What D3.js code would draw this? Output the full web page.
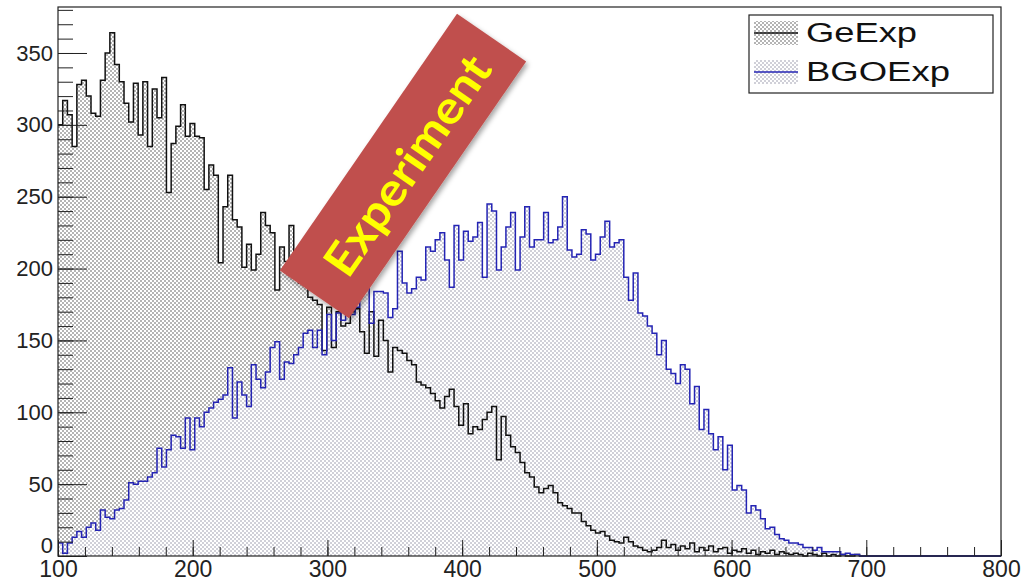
<!DOCTYPE html>
<html>
<head>
<meta charset="utf-8">
<script src="https://cdn.jsdelivr.net/npm/d3@7"></script>
<style>
  body { margin: 0; background: #fff; }
  svg { display: block; }
  .tick text { font-family: "Liberation Sans", Arial, Helvetica, sans-serif; fill: #222; }
</style>
</head>
<body>
<div id="chart"></div>
<script>
// histogram binning: 200 bins of 3.5 between 100 and 800
const binStart = 100;
const binWidth = 3.5;

const geExp = [
  300,317,307,285,328,331,320,308,306,331,
  350,364,342,330,315,302,329,293,330,285,
  325,305,333,253,287,299,314,292,301,292,
  291,255,272,265,204,243,265,234,229,201,
  217,199,210,239,230,225,185,215,205,230,
  200,190,195,180,178,175,143,173,145,170,
  160,162,170,172,156,141,170,139,164,150,
  128,145,143,141,136,133,121,119,117,113,
  108,103,111,116,104,91,106,85,90,88,
  95,100,104,67,97,84,76,72,65,58,
  55,48,44,47,49,44,37,35,33,30,
  30,24,21,18,16,17,14,11,10,9,
  13,10,7,6,4,3,4,6,11,6,
  8,4,7,5,9,3,6,4,7,3,
  5,6,2,4,3,5,2,4,1,3,
  2,4,1,3,2,1,2,1,0,2,
  1,0,2,0,1,0,1,0,0,1,
  0,0,0,0,0,0,0,0,0,0,
  0,0,0,0,0,0,0,0,0,0,
  0,0,0,0,0,0,0,0,0,0
];

const bgoExp = [
  9,2,9,13,17,13,20,23,18,32,
  27,26,32,33,39,51,50,52,52,55,
  58,75,62,74,84,83,75,96,74,96,
  90,100,103,107,109,112,131,96,121,112,
  104,133,123,117,128,145,149,123,135,134,
  140,145,155,157,145,157,140,168,150,169,
  164,173,168,173,185,190,162,184,184,183,
  166,172,212,190,183,186,194,192,215,212,
  220,225,206,187,230,206,226,219,222,232,
  194,245,240,199,215,229,239,199,222,243,
  215,220,220,239,218,220,229,250,213,208,
  210,227,224,206,210,222,233,215,218,220,
  194,178,197,169,167,160,155,140,150,130,
  127,120,133,130,106,118,88,102,85,74,
  83,60,77,46,49,46,30,35,32,26,
  19,20,15,12,11,9,9,8,6,6,
  4,6,3,3,3,3,1,2,1,1,
  0,0,0,0,0,0,0,0,0,0,
  0,0,0,0,0,0,0,0,0,0,
  0,0,0,0,0,0,0,0,0,0
];

const xTicks = [100, 200, 300, 400, 500, 600, 700, 800];
const yTicks = [0, 50, 100, 150, 200, 250, 300, 350];
const seriesNames = ["GeExp", "BGOExp"];
const bannerText = "Experiment";

const W = 1021, H = 586;
const frame = { left: 58, right: 1001, top: 7, bottom: 556 };

const svg = d3.select("#chart").append("svg")
  .attr("width", W).attr("height", H);

const defs = svg.append("defs");

// dotted ROOT-like fill patterns
function dotPattern(id, dot) {
  const p = defs.append("pattern")
    .attr("id", id).attr("patternUnits", "userSpaceOnUse")
    .attr("width", 4).attr("height", 4);
  p.append("rect").attr("width", 4).attr("height", 4).attr("fill", "#fff");
  p.append("rect").attr("x", 0).attr("y", 0).attr("width", 2).attr("height", 2).attr("fill", dot);
  p.append("rect").attr("x", 2).attr("y", 2).attr("width", 2).attr("height", 2).attr("fill", dot);
}
dotPattern("gePat", "#b4b4b4");
dotPattern("bgoPat", "#d0d0d8");

const shadow = defs.append("filter").attr("id", "shadow")
  .attr("x", "-20%").attr("y", "-20%").attr("width", "140%").attr("height", "140%");
shadow.append("feDropShadow")
  .attr("dx", 2).attr("dy", 3).attr("stdDeviation", 2.5)
  .attr("flood-color", "#000").attr("flood-opacity", 0.35);

const x = d3.scaleLinear().domain([100, 800]).range([frame.left, frame.right]);
const y = d3.scaleLinear().domain([0, 382]).range([frame.bottom, frame.top]);

function toSteps(vals) {
  const pts = vals.map((v, i) => ({ e: binStart + i * binWidth, v: v }));
  pts.push({ e: binStart + vals.length * binWidth, v: vals[vals.length - 1] });
  return pts;
}

const area = d3.area()
  .curve(d3.curveStepAfter)
  .x(d => x(d.e))
  .y0(y(0))
  .y1(d => y(d.v));

const line = d3.line()
  .curve(d3.curveStepAfter)
  .x(d => x(d.e))
  .y(d => y(d.v));

const geSteps = toSteps(geExp);
const bgoSteps = toSteps(bgoExp);

svg.append("path").datum(geSteps).attr("d", area).attr("fill", "url(#gePat)");
svg.append("path").datum(bgoSteps).attr("d", area).attr("fill", "url(#bgoPat)");

svg.append("path").datum(geSteps).attr("d", line)
  .attr("fill", "none").attr("stroke", "#111").attr("stroke-width", 1.5);
svg.append("path").datum(bgoSteps).attr("d", line)
  .attr("fill", "none").attr("stroke", "#2424b4").attr("stroke-width", 1.5);

// axes, ticks drawn inwards like ROOT
const yMinor = d3.range(0, 381, 10);
const xMinor = d3.range(100, 801, 20);

const yMinorG = svg.append("g").attr("transform", `translate(${frame.left},0)`)
  .call(d3.axisLeft(y).tickValues(yMinor).tickSize(-15).tickFormat(""));
const yMajorG = svg.append("g").attr("transform", `translate(${frame.left},0)`)
  .call(d3.axisLeft(y).tickValues(yTicks).tickSize(-29).tickPadding(5));
yMajorG.selectAll("text").style("font-size", "22px");
// the zero label sits a little higher so it clears the x labels
yMajorG.selectAll(".tick").filter(d => d === 0).select("text").attr("y", -11);

const xMinorG = svg.append("g").attr("transform", `translate(0,${frame.bottom})`)
  .call(d3.axisBottom(x).tickValues(xMinor).tickSize(-9).tickFormat(""));
const xMajorG = svg.append("g").attr("transform", `translate(0,${frame.bottom})`)
  .call(d3.axisBottom(x).tickValues(xTicks).tickSize(-16).tickPadding(5));
xMajorG.selectAll("text").style("font-size", "23px");

[yMinorG, yMajorG, xMinorG, xMajorG].forEach(g => {
  g.select(".domain").remove();
  g.selectAll("line").attr("stroke", "#222");
});

svg.append("rect")
  .attr("x", frame.left).attr("y", frame.top)
  .attr("width", frame.right - frame.left).attr("height", frame.bottom - frame.top)
  .attr("fill", "none").attr("stroke", "#222").attr("stroke-width", 1.2);

// legend
const leg = svg.append("g");
leg.append("rect").attr("x", 749).attr("y", 15).attr("width", 244).attr("height", 78)
  .attr("fill", "#fff").attr("stroke", "#222").attr("stroke-width", 1.2);
const legItems = [
  { name: seriesNames[0], pat: "url(#gePat)", col: "#111", y: 21, len: 111 },
  { name: seriesNames[1], pat: "url(#bgoPat)", col: "#2424b4", y: 60, len: 144 }
];
legItems.forEach(d => {
  leg.append("rect").attr("x", 754).attr("y", d.y).attr("width", 44).attr("height", 24)
    .attr("fill", d.pat);
  leg.append("line").attr("x1", 754).attr("x2", 798)
    .attr("y1", d.y + 12).attr("y2", d.y + 12)
    .attr("stroke", d.col).attr("stroke-width", 1.5);
  leg.append("text").attr("x", 806).attr("y", d.y + 21)
    .attr("textLength", d.len).attr("lengthAdjust", "spacingAndGlyphs")
    .style("font-family", "'Liberation Sans', Arial, Helvetica, sans-serif")
    .style("font-size", "27px").attr("fill", "#111")
    .text(d.name);
});

// rotated banner
const bannerOuter = svg.append("g")
  .attr("transform", "translate(403,166)")
  .attr("filter", "url(#shadow)");
const banner = bannerOuter.append("g").attr("transform", "rotate(-55.4)");
banner.append("rect")
  .attr("x", -156).attr("y", -42).attr("width", 312).attr("height", 84)
  .attr("fill", "#c0504d");
banner.append("text")
  .attr("x", 3).attr("y", 2)
  .attr("text-anchor", "middle").attr("dominant-baseline", "central")
  .attr("textLength", 256).attr("lengthAdjust", "spacingAndGlyphs")
  .style("font-family", "Lato, 'Open Sans', sans-serif")
  .style("font-weight", "bold").style("font-size", "46px")
  .attr("fill", "#ffff00")
  .text(bannerText);
</script>
</body>
</html>
